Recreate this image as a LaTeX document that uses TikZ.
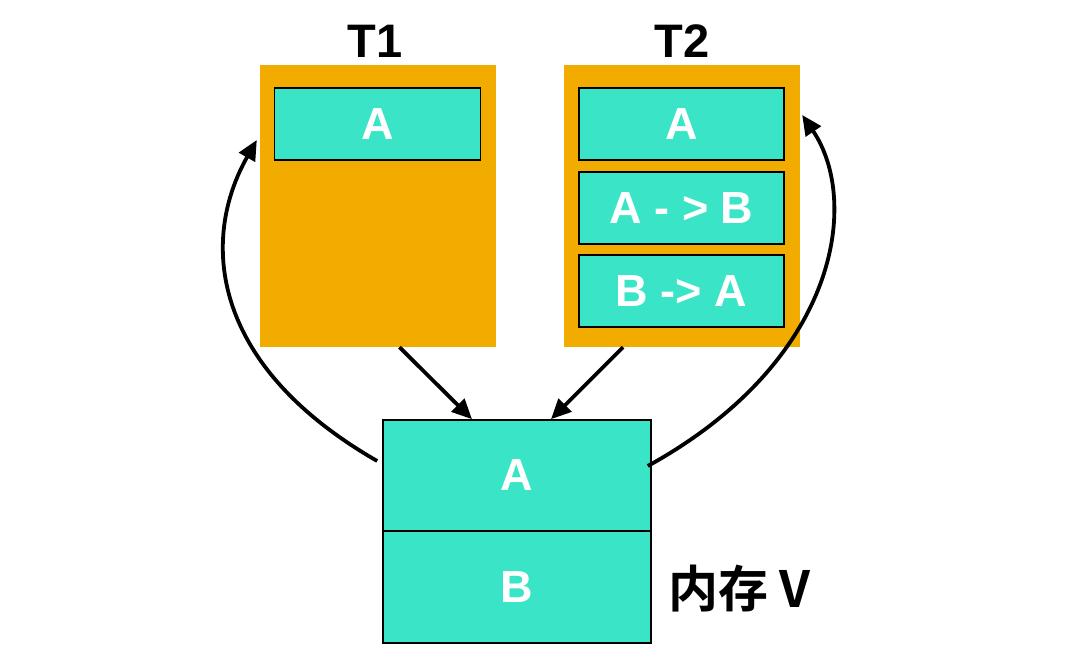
\documentclass[tikz,border=0pt]{standalone}
\usepackage{fontspec}
\setmainfont{Liberation Sans}
\newfontfamily\cjkfont{Noto Sans CJK SC}[BoldFont={* Bold}]
\usetikzlibrary{arrows.meta}
\definecolor{tealc}{RGB}{58,229,199}
\definecolor{orangec}{RGB}{242,172,0}
\tikzset{
  obox/.style={fill=orangec, draw=none, inner sep=0pt},
  cell/.style={fill=tealc, draw=black, line width=1.6pt, inner sep=0pt,
    text=white, font=\fontsize{45}{50}\selectfont\bfseries},
  title/.style={font=\fontsize{47}{52}\selectfont\bfseries, text=black, inner sep=0pt},
  arr/.style={line width=3.8pt, -{Triangle[length=20pt,width=18pt]}},
}
\begin{document}
\begin{tikzpicture}[x=1pt,y=-1pt]
\useasboundingbox (0,0) rectangle (1080,671);
\fill[white] (0,0) rectangle (1080,671);
% T1
\node[obox, minimum width=236pt, minimum height=282pt] (t1) at (377.5,206) {};
\node[cell, minimum width=206pt, minimum height=72pt] (t1a) at (377.5,124) {A};
\node[title, anchor=base] (t1t) at (375,58) {T1};
% T2
\node[obox, minimum width=236pt, minimum height=282pt] (t2) at (682,206) {};
\node[cell, minimum width=205pt, minimum height=72pt] (t2a) at (681.5,124) {A};
\node[cell, minimum width=205pt, minimum height=72pt] (t2b) at (681.5,208) {A - > B};
\node[cell, minimum width=205pt, minimum height=72pt] (t2c) at (681.5,291) {B -> A};
\node[title, anchor=base] (t2t) at (682,58) {T2};
% memory
\node[cell, minimum width=268pt, minimum height=111pt] (ma) at (517,475.5) {A};
\node[cell, minimum width=268pt, minimum height=112pt] (mb) at (517,587) {B};
\node[anchor=base west, inner sep=0pt, font=\cjkfont\fontsize{50}{55}\selectfont\bfseries] (lbl) at (668,607) {内存 V};
% arrows
\draw[arr] ([xshift=22pt]t1.south) -- ([xshift=-45pt]ma.north);
\draw[arr] ([xshift=-59pt]t2.south) -- ([xshift=34pt]ma.north);
\draw[arr] ([xshift=-5pt,yshift=14.5pt]ma.west) .. controls (210,365) and (200,240) .. ([xshift=-2.5pt,yshift=66pt]t1.west);
\draw[arr] ([xshift=-4pt,yshift=9.5pt]ma.east) .. controls (840,360) and (860,200) .. ([xshift=2pt,yshift=91pt]t2.east);
\end{tikzpicture}
\end{document}
